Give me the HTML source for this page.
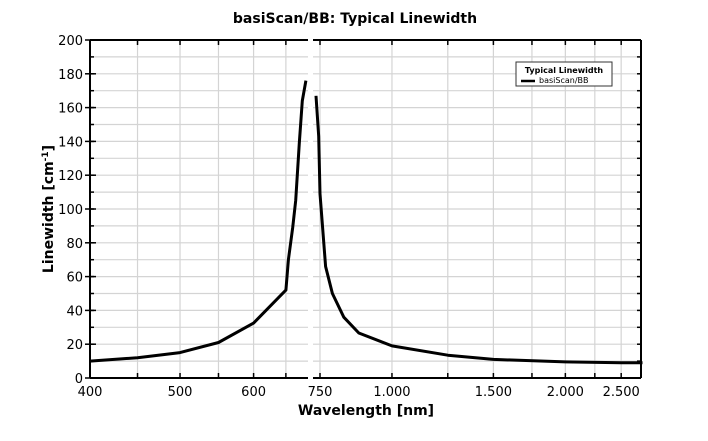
<!DOCTYPE html>
<html><head><meta charset="utf-8"><style>
body{margin:0;background:#fff;}
svg{display:block;font-family:"DejaVu Sans","Liberation Sans",sans-serif;}
</style></head><body>
<svg id="chart" width="708" height="441" viewBox="0 0 708 441" xmlns="http://www.w3.org/2000/svg">
<text x="355" y="23" text-anchor="middle" font-size="14" font-weight="bold">basiScan/BB: Typical Linewidth</text>
<g id="grid"></g>
<g id="axes"></g>
<g id="series"></g>
<text transform="translate(53,209) rotate(-90)" text-anchor="middle" font-size="14" font-weight="bold">Linewidth [cm<tspan dy="-5" font-size="9">-1</tspan><tspan dy="5">]</tspan></text>
<text x="366" y="415" text-anchor="middle" font-size="14" font-weight="bold">Wavelength [nm]</text>
<g>
<rect x="516" y="62" width="96" height="24" fill="#fff" stroke="#333" stroke-width="1"/>
<text x="564" y="73" text-anchor="middle" font-size="8" font-weight="bold">Typical Linewidth</text>
<line x1="521" y1="81" x2="535" y2="81" stroke="#000" stroke-width="2.5"/>
<text x="539" y="83" font-size="8">basiScan/BB</text>
</g>
</svg>
<script>
const leftWl=[400,450,500,550,600,650,654,661,666,672,677,683];
const leftVal=[10,12,15,21,32.5,52,70,89,105,139,164,176];
const rightWl=[738,746,750,759,767,788,825,876,1000,1250,1500,2000,2500,2722];
const rightVal=[167,143,109,86,66,50,36,26.6,19,13.5,11,9.5,9,9];
const yTicks=[0,20,40,60,80,100,120,140,160,180,200];
const leftTicks=[400,500,600];
const leftMinor=[450,550,650];
const rightTicks=[750,1000,1500,2000,2500];
const rightTickLabels=["750","1.000","1.500","2.000","2.500"];
const rightMinor=[1250,1750,2250];

const NS="http://www.w3.org/2000/svg";
const X0=90,X1=641,Y0=378,Y1=40,BL=308,BR=313;
function y(v){return Y0-(v/200)*(Y0-Y1);}
function xl(w){return X0+Math.log10(w/400)*929;}
function xr(w){return 320+Math.log10(w/750)*576;}
function mk(tag,attrs,parent){const e=document.createElementNS(NS,tag);for(const k in attrs)e.setAttribute(k,attrs[k]);parent.appendChild(e);return e;}
const grid=document.getElementById('grid'),axes=document.getElementById('axes'),ser=document.getElementById('series');
// horizontal grid every 10
for(let v=10;v<200;v+=10){
  const g1=mk('line',{x1:X0,x2:BL,y1:y(v),y2:y(v),stroke:'#d4d4d4','stroke-width':1.2},grid);
  
  
  const g2=mk('line',{x1:BR,x2:X1,y1:y(v),y2:y(v),stroke:'#d4d4d4','stroke-width':1.2},grid);
  
  
  const t=mk('line',{x1:X0,x2:X0+4,y1:y(v),y2:y(v),stroke:'#000','stroke-width':1.5},axes);
  
  
  const t2=mk('line',{x1:X1-4,x2:X1,y1:y(v),y2:y(v),stroke:'#000','stroke-width':1.5},axes);
  
  
}
const vx=[...leftTicks.map(xl),...leftMinor.map(xl),...rightTicks.map(xr),...rightMinor.map(xr)];
vx.forEach(px=>{
  if(px<=X0+1)return;
  const g=mk('line',{x1:px,x2:px,y1:Y1,y2:Y0,stroke:'#d4d4d4','stroke-width':1.2},grid);
  
  
  const t=mk('line',{x1:px,x2:px,y1:Y0,y2:Y0-5,stroke:'#000','stroke-width':1.5},axes);
  
  
  const t2=mk('line',{x1:px,x2:px,y1:Y1,y2:Y1+5,stroke:'#000','stroke-width':1.5},axes);
  
  
});
// frame
[[X0,Y0,BL,Y0],[BR,Y0,X1,Y0],[X0,Y1,BL,Y1],[BR,Y1,X1,Y1],[X0,Y1,X0,Y0],[X1,Y1,X1,Y0]].forEach(a=>{
  const l=mk('line',{x1:a[0],y1:a[1],x2:a[2],y2:a[3],stroke:'#000','stroke-width':2},axes);
  
  
});
yTicks.forEach(v=>{
  const t=mk('line',{x1:X0-5,x2:X0+6,y1:y(v),y2:y(v),stroke:'#000','stroke-width':1.5},axes);
  
  
  const tx=mk('text',{x:X0-7,y:y(v)+5,'text-anchor':'end','font-size':13},axes);
  tx.textContent=v;
  
  
});
leftTicks.forEach(w=>{
  const tx=mk('text',{x:xl(w),y:Y0+18,'text-anchor':'middle','font-size':13},axes);
  tx.textContent=w;
  
  
});
rightTicks.forEach((w,i)=>{
  const tx=mk('text',{x:xr(w),y:Y0+18,'text-anchor':'middle','font-size':13},axes);
  tx.textContent=rightTickLabels[i];
  
  
});
function path(ws,vs,fx){return ws.map((w,i)=>(i?'L':'M')+fx(w).toFixed(1)+','+y(vs[i]).toFixed(1)).join('');}
const p1=mk('path',{d:path(leftWl,leftVal,xl),fill:'none',stroke:'#000','stroke-width':3,'stroke-linejoin':'round'},ser);


const p2=mk('path',{d:path(rightWl,rightVal,xr),fill:'none',stroke:'#000','stroke-width':3,'stroke-linejoin':'round'},ser);


</script>
</body></html>
